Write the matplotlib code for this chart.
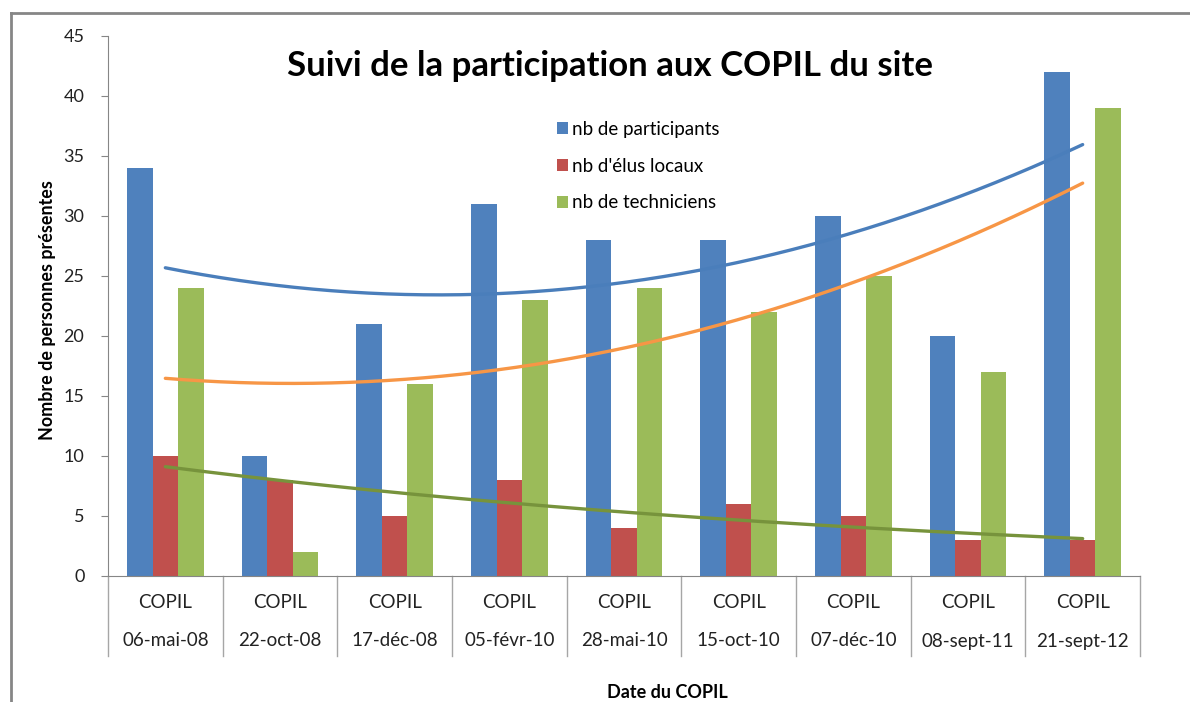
import matplotlib.pyplot as plt
import matplotlib.transforms as mtransforms
import numpy as np

# donnees
dates = ["06-mai-08", "22-oct-08", "17-déc-08", "05-févr-10", "28-mai-10",
         "15-oct-10", "07-déc-10", "08-sept-11", "21-sept-12"]
participants = [34, 10, 21, 31, 28, 28, 30, 20, 42]
elus = [10, 8, 5, 8, 4, 6, 5, 3, 3]
techniciens = [24, 2, 16, 23, 24, 22, 25, 17, 39]
labels = ["nb de participants", "nb d'élus locaux", "nb de techniciens"]
yticks = [0, 5, 10, 15, 20, 25, 30, 35, 40, 45]

plt.rcParams['font.family'] = ['Lato', 'DejaVu Sans']

fig = plt.figure(figsize=(11.9, 7.02), dpi=100)
ax = fig.add_axes([108/1190, 1 - 576/702, (1140 - 108)/1190, (576 - 36)/702])

x = np.arange(1, len(dates) + 1)
w = 1 / 4.5
colors = ["#4F81BD", "#C0504D", "#9BBB59"]
for i, (vals, c, lab) in enumerate(zip([participants, elus, techniciens], colors, labels)):
    ax.bar(x + (i - 1) * w, vals, w, color=c, label=lab)

# courbes de tendance (comme Excel)
xs = np.linspace(1, len(dates), 200)
p = np.polyfit(x, participants, 2)
ax.plot(xs, np.polyval(p, xs), color="#4A7EBB", lw=2.4, solid_capstyle='round')
p = np.polyfit(x, techniciens, 2)
ax.plot(xs, np.polyval(p, xs), color="#F79646", lw=2.4, solid_capstyle='round')
p = np.polyfit(x, np.log(elus), 1)
ax.plot(xs, np.exp(np.polyval(p, xs)), color="#77933C", lw=2.4, solid_capstyle='round')

ax.set_xlim(0.5, len(dates) + 0.5)
ax.set_ylim(0, 45)
ax.set_yticks(yticks)
ax.tick_params(axis='y', direction='out', length=5, color="#868686",
               labelsize=13, pad=12, labelcolor="#222222")
ax.set_xticks([])
for s in ['top', 'right']:
    ax.spines[s].set_visible(False)
for s in ['left', 'bottom']:
    ax.spines[s].set_color("#868686")

# tableau des categories sous l'axe
trans = mtransforms.blended_transform_factory(ax.transData, ax.transAxes)
ext = -80 / 540
for b in np.arange(0.5, len(dates) + 1, 1):
    ax.plot([b, b], [0, ext], transform=trans, color="#A6A6A6", lw=1, clip_on=False)
for xi, d in zip(x, dates):
    ax.text(xi, -27/540, "COPIL", transform=trans, ha='center', va='center',
            fontsize=13.5, color="#222222")
    ax.text(xi, -65/540, d, transform=trans, ha='center', va='center',
            fontsize=13.5, color="#222222")

fig.text(610/1190, 1 - 66/702, "Suivi de la participation aux COPIL du site",
         ha='center', va='center', fontsize=25, fontweight='bold')
fig.text(48/1190, 1 - 310/702, "Nombre de personnes présentes", rotation=90,
         ha='center', va='center', fontsize=12.9, fontweight='bold')
fig.text(667/1190, 1 - 692/702, "Date du COPIL", ha='center', va='center',
         fontsize=13, fontweight='bold')

ax.legend(loc='upper left', bbox_to_anchor=(540/1190, 1 - 104/702),
          bbox_transform=fig.transFigure, frameon=False, fontsize=13.5,
          handlelength=0.6, handleheight=0.6, handletextpad=0.2, labelspacing=1.05)

# cadre exterieur
fig.add_artist(plt.Line2D([11/1190, 11/1190], [0, 1 - 13/702], color="#868686", lw=2))
fig.add_artist(plt.Line2D([11/1190, 1], [1 - 13/702, 1 - 13/702], color="#868686", lw=2))

fig.savefig("out.png", dpi=100)
